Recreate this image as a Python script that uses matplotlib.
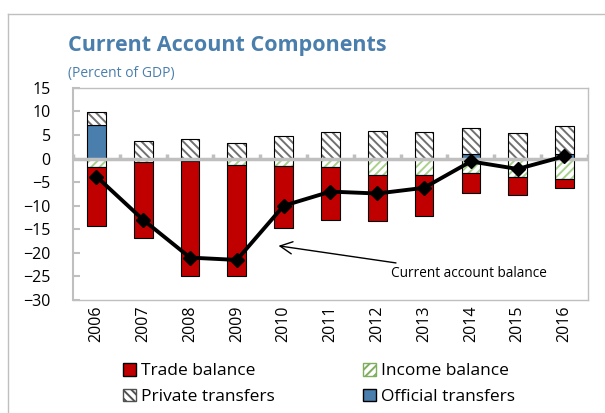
import numpy as np
import matplotlib.pyplot as plt
from matplotlib.patches import Patch

plt.rcParams['font.family'] = ['Open Sans', 'DejaVu Sans']
plt.rcParams['hatch.linewidth'] = 1.4

# 데이터 (GDP 대비 %)
years = ['2006', '2007', '2008', '2009', '2010', '2011', '2012', '2013', '2014', '2015', '2016']
trade = [-12.4, -16.1, -24.4, -23.7, -13.1, -11.3, -9.8, -8.6, -4.2, -3.65, -2.0]
income = [-1.85, -0.8, -0.6, -1.3, -1.6, -1.7, -3.5, -3.5, -3.1, -4.0, -4.3]
private = [2.7, 3.8, 4.2, 3.3, 4.75, 5.6, 5.95, 5.6, 5.5, 5.4, 5.9]
official = [7.1, 0.0, 0.0, 0.0, 0.0, 0.0, 0.0, 0.0, 1.0, 0.0, 1.0]
ca_balance = [-3.8, -13.0, -21.0, -21.5, -10.0, -7.0, -7.4, -6.2, -0.6, -2.2, 0.5]

blue = '#4a7ead'
red = '#c00000'
gray = '#bfbfbf'

x = np.arange(len(years))
w = 0.4
trade = np.array(trade)
income = np.array(income)
private = np.array(private)
official = np.array(official)

fig = plt.figure(figsize=(6.05, 4.13), dpi=100)
ax = fig.add_axes([0.1207, 0.2736, 0.851, 0.5135])

# 음수 쪽: income 먼저 (0 바로 아래), 그 다음 trade
ax.bar(x, income, w, color='white', edgecolor='#a9d18e', hatch='////', linewidth=0)
ax.bar(x, income, w, fill=False, edgecolor='black', linewidth=0.8)
ax.bar(x, trade, w, bottom=income, color=red, edgecolor='black', linewidth=0.8)

# 양수 쪽: official 먼저, 그 위에 private
ax.bar(x, official, w, color=blue, edgecolor='black', linewidth=0.8)
ax.bar(x, private, w, bottom=official, color='white', edgecolor='#707070', hatch='\\\\\\\\', linewidth=0)
ax.bar(x, private, w, bottom=official, fill=False, edgecolor='black', linewidth=0.8)

# 0 라인 + 카테고리 경계 작은 눈금
ax.axhline(0, color=gray, lw=2.5, zorder=3)
ax.vlines(np.arange(len(years) + 1) - 0.5, 0, 0.9, color=gray, lw=2.5, zorder=3)

# 경상수지 라인
ax.plot(x, ca_balance, color='black', lw=2.8, marker='D', markersize=7, zorder=4)

ax.annotate('Current account balance', xy=(3.89, -18.5), xytext=(6.3, -24.4),
            fontsize=9.8, va='center', ha='left',
            arrowprops=dict(arrowstyle='->', color='black', lw=1,
                            mutation_scale=22, shrinkA=2, shrinkB=0))

ax.set_xlim(-0.5, len(years) - 0.5)
ax.set_ylim(-30, 15)
ax.set_yticks(range(-30, 16, 5))
ax.set_xticks(x)
ax.set_xticklabels(years, rotation=90, fontsize=11.5)
ax.tick_params(axis='x', length=0, pad=4)
ax.tick_params(axis='y', direction='in', length=5, color=gray, width=1.5, labelsize=11.5, pad=16)
for s in ax.spines.values():
    s.set_color(gray)
    s.set_linewidth(1)
ax.spines['left'].set_linewidth(1.5)

# 제목
fig.text(68 / 605, 1 - 46 / 413, 'Current Account Components', fontsize=15.5, fontweight='bold',
         color=blue, ha='left', va='center')
fig.text(68 / 605, 1 - 74 / 413, '(Percent of GDP)', fontsize=10, color=blue, ha='left', va='center')

# 바깥 테두리
fig.add_artist(plt.Line2D([8 / 605, 1], [1 - 14 / 413, 1 - 14 / 413], color=gray, lw=1))
fig.add_artist(plt.Line2D([8 / 605, 8 / 605], [0, 1 - 14 / 413], color=gray, lw=1))

# 범례 (열 우선 배치라 순서 조정)
handles = [
    Patch(facecolor=red, edgecolor='black', label='Trade balance'),
    Patch(facecolor='white', edgecolor='#505050', hatch='\\\\\\\\', label='Private transfers'),
    Patch(facecolor='white', edgecolor='#7fae5f', hatch='////', label='Income balance'),
    Patch(facecolor=blue, edgecolor='black', label='Official transfers'),
]
fig.legend(handles=handles, ncol=2, loc='center left', bbox_to_anchor=(114 / 605, 1 - 384 / 413),
           frameon=False, fontsize=12.5, handlelength=0.75, handleheight=0.75, handletextpad=0.3,
           columnspacing=5.1, labelspacing=0.55, borderpad=0)

plt.savefig('out.png', dpi=100)
